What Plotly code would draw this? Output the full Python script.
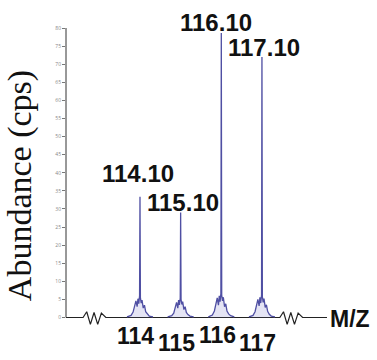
import plotly.graph_objects as go

# ---- data ----
peak_mz = [114.10, 115.10, 116.10, 117.10]
peak_labels = ["114.10", "115.10", "116.10", "117.10"]
peak_height = [33.4, 29.0, 78.6, 72.0]

# base cluster profiles around each peak (offset in m/z, abundance)
p114_off = [-0.32, -0.22, -0.17, -0.13, -0.10, -0.07, -0.05, -0.03, -0.01, 0.00, 0.01, 0.03, 0.05, 0.08, 0.11, 0.14, 0.18, 0.23, 0.32]
p114_int = [0.2, 0.6, 1.5, 3.2, 4.6, 3.0, 5.2, 3.8, 6.0, 33.4, 5.5, 4.0, 4.8, 2.6, 3.4, 1.6, 0.9, 0.4, 0.2]
p115_off = [-0.32, -0.22, -0.17, -0.13, -0.10, -0.07, -0.05, -0.03, -0.01, 0.00, 0.01, 0.03, 0.05, 0.08, 0.11, 0.14, 0.18, 0.23, 0.32]
p115_int = [0.2, 0.5, 1.2, 2.8, 4.2, 2.6, 4.8, 3.5, 5.4, 29.0, 5.0, 3.6, 4.4, 2.2, 3.0, 1.4, 0.8, 0.4, 0.2]
p116_off = [-0.32, -0.22, -0.17, -0.13, -0.10, -0.07, -0.05, -0.03, -0.01, 0.00, 0.01, 0.03, 0.05, 0.08, 0.11, 0.14, 0.18, 0.23, 0.32]
p116_int = [0.2, 0.7, 1.8, 3.6, 5.4, 3.4, 6.0, 4.4, 6.6, 78.6, 6.2, 4.6, 5.6, 3.0, 3.8, 1.8, 1.0, 0.5, 0.2]
p117_off = [-0.32, -0.22, -0.17, -0.13, -0.10, -0.07, -0.05, -0.03, -0.01, 0.00, 0.01, 0.03, 0.05, 0.08, 0.11, 0.14, 0.18, 0.23, 0.32]
p117_int = [0.2, 0.6, 1.6, 3.4, 5.0, 3.2, 5.6, 4.0, 6.2, 72.0, 5.8, 4.2, 5.2, 2.8, 3.5, 1.7, 0.9, 0.4, 0.2]
profiles = [(p114_off, p114_int), (p115_off, p115_int), (p116_off, p116_int), (p117_off, p117_int)]

x_tick_vals = [114, 115, 116, 117]
x_tick_text = ["114", "115", "116", "117"]
y_tick_vals = [0, 5, 10, 15, 20, 25, 30, 35, 40, 45, 50, 55, 60, 65, 70, 75, 80]
x_title = "M/Z"
y_title = "Abundance (cps)"

x_range = [112.28, 118.70]
y_range = [-4, 80]
axis_breaks = [112.98, 117.82]

fig = go.Figure()

# baseline (x axis) with break squiggles
zz_dx = [-0.28, -0.19, -0.10, -0.01, 0.08, 0.17, 0.28]
zz_dy = [0.0, 1.6, -1.9, 1.4, -1.9, 1.2, 0.0]
bx, by = [x_range[0] - 0.2], [0.0]
for b in axis_breaks:
    for dx, dy in zip(zz_dx, zz_dy):
        bx.append(b + dx)
        by.append(dy)
bx.append(x_range[1])
by.append(0.0)
fig.add_trace(go.Scatter(x=bx, y=by, mode="lines", line=dict(color="#222222", width=1.2),
                         cliponaxis=False, hoverinfo="skip", showlegend=False))

# spectrum peaks
for mz, (offs, ints) in zip(peak_mz, profiles):
    fig.add_trace(go.Scatter(
        x=[mz + o for o in offs], y=ints, mode="lines",
        line=dict(color="#4f4fa3", width=1.3),
        fill="tozeroy", fillcolor="rgba(130,130,205,0.22)",
        showlegend=False, hoverinfo="skip"))

annotations = []
label_shift = [(-2, 8), (2, -5), (-5, -5), (2, -6)]
for mz, lab, h, (sx, sy) in zip(peak_mz, peak_labels, peak_height, label_shift):
    annotations.append(dict(x=mz, y=h, xref="x", yref="y", text="<b>%s</b>" % lab,
                            showarrow=False, xanchor="center", yanchor="bottom",
                            xshift=sx, yshift=sy,
                            font=dict(family="Liberation Sans, Arial", size=24, color="#111111")))

tick_yshift = [-3, -10, -2, -10]
for v, t, sy in zip(x_tick_vals, x_tick_text, tick_yshift):
    annotations.append(dict(x=v, y=0, xref="x", yref="y", text="<b>%s</b>" % t,
                            showarrow=False, xanchor="center", yanchor="top", yshift=sy,
                            font=dict(family="Liberation Sans, Arial", size=23, color="#111111")))

annotations.append(dict(x=1.0, y=0, xref="paper", yref="y", text="<b>%s</b>" % x_title,
                        showarrow=False, xanchor="left", yanchor="middle", xshift=1, yshift=-1,
                        font=dict(family="Liberation Sans, Arial", size=23, color="#111111")))

annotations.append(dict(x=-0.176, y=0.48, xref="paper", yref="paper", text=y_title,
                        showarrow=False, textangle=-90, xanchor="center", yanchor="middle",
                        font=dict(family="Liberation Serif, Times New Roman", size=34, color="#111111")))

shapes = [dict(type="line", xref="paper", yref="y", x0=0, x1=0, y0=0, y1=y_range[1],
               line=dict(color="#333333", width=1))]

fig.update_layout(
    width=377, height=360,
    margin=dict(l=66, r=50, t=28, b=27.5),
    paper_bgcolor="white", plot_bgcolor="white",
    xaxis=dict(range=x_range, visible=False),
    yaxis=dict(range=y_range, showline=False,
               ticks="outside", ticklen=3, tickcolor="#777777",
               tickvals=y_tick_vals, showticklabels=True,
               tickfont=dict(size=5, color="#888888"),
               showgrid=False, zeroline=False),
    annotations=annotations,
    shapes=shapes,
)

fig.write_html("out.html")
